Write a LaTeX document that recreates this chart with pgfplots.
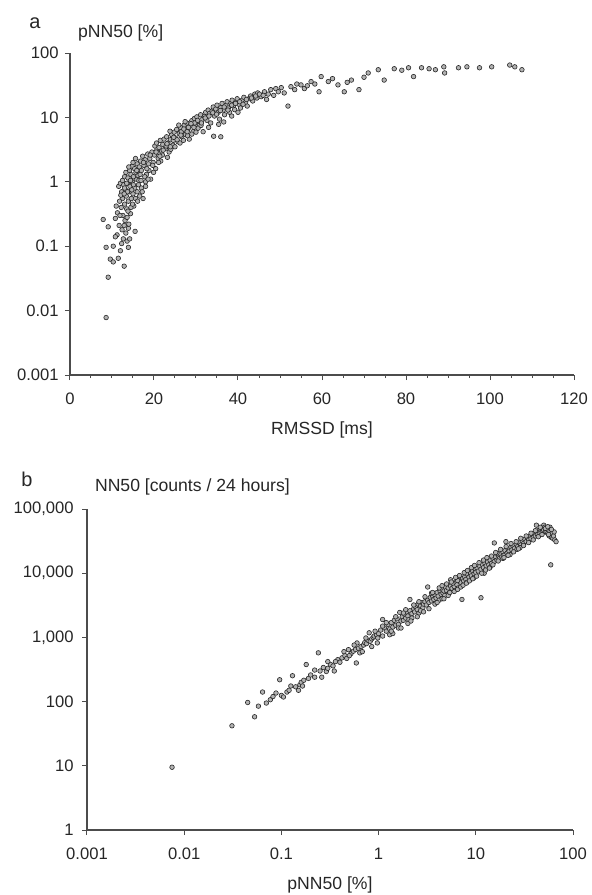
\documentclass[border=0pt]{standalone}
\usepackage{fontspec}
\setmainfont{Liberation Sans}
\usepackage{pgfplots}
\pgfplotsset{compat=1.18}

\pgfplotsset{
  panel/.style={
    scale only axis, anchor=south west,
    axis x line*=bottom, axis y line*=left,
    axis line style={black!70, line width=0.7pt, -},
    tick style={black!70, line width=0.5pt},
    tick align=outside,
    major tick length=2.5pt, minor tick length=1.5pt,
    tick label style={font=\fontsize{8.3}{9}\selectfont, text=black!85},
    xticklabel style={anchor=center, yshift=-9.5pt},
    yticklabel style={anchor=east, inner sep=0pt},
    every axis x label/.style={at={(axis description cs:0.5,0)}, anchor=center, yshift=-27.5pt, font=\fontsize{8.8}{10}\selectfont, text=black!85},
    every axis y label/.style={at={(axis description cs:0,1)}, anchor=west, font=\fontsize{8.8}{10}\selectfont, text=black!85},
    clip=false,
  },
  dots/.style={only marks, mark=*, mark size=1.15pt,
    mark options={fill=gray!60, draw=black!85, line width=0.3pt}},
}

\begin{document}
\begin{tikzpicture}
\path[use as bounding box] (0,0) rectangle (296pt,-447.5pt);

% panel a
\begin{axis}[panel, at={(35pt,-187.5pt)}, width=252pt, height=161pt,
  xmin=0, xmax=120, ymode=log, ymin=0.001, ymax=100,
  xtick={0,20,40,60,80,100,120}, xticklabels={0,20,40,60,80,100,120},
  minor x tick num=3, yminorticks=false,
  ytick={0.001,0.01,0.1,1,10,100}, yticklabels={0.001,0.01,0.1,1,10,100},
  yticklabel style={xshift=-3pt},
  xlabel={RMSSD [ms]},
  ylabel={pNN50 [\%]}, ylabel style={xshift=0.5pt, yshift=10pt},
]
\addplot[dots] coordinates {
 (7.9,0.26) (10.8,0.27) (9.1,0.20) (15.5,0.17) (8.6,0.096) (10.3,0.10) (12.0,0.085)
 (13.9,0.096) (9.6,0.063) (10.3,0.057) (11.5,0.065) (12.9,0.049) (9.1,0.033) (8.6,0.0078)
 (12.7,0.13) (13.6,0.12) (13.9,0.19) (11.2,0.15) (12.3,0.11) (11.7,0.21) (10.8,0.14)
 (11.6,0.85) (12.0,0.95) (12.3,0.7) (12.5,0.55) (12.8,0.9) (13.0,0.45) (13.2,0.75)
 (13.4,0.6) (13.5,0.38) (13.7,0.95) (13.9,0.5) (14.1,0.7) (14.3,0.85) (14.4,0.32)
 (14.6,0.55) (14.8,1.0) (15.0,0.65) (15.2,0.42) (15.4,0.8) (15.6,0.55) (15.8,1.1)
 (16.0,0.7) (16.3,0.9) (16.6,0.6) (17.0,0.8) (17.4,0.55) (12.2,0.4) (12.6,0.3)
 (13.1,0.25) (13.6,0.28) (14.0,0.22) (14.5,0.4) (11.8,0.5) (12.1,0.62) (11.3,0.33)
 (11.0,0.42) (12.4,0.18) (13.3,0.16) (14.2,0.13) (12.9,0.21)
 (12.5,1.05) (13.0,1.2) (13.3,1.4) (13.8,1.15) (14.2,1.5) (14.5,1.3) (14.8,1.75)
 (15.1,1.2) (15.4,1.6) (15.7,1.4) (16.0,1.9) (16.2,1.25) (16.5,1.7) (16.8,2.1)
 (17.0,1.5) (17.3,2.5) (17.6,1.8) (17.9,2.2) (18.2,1.3) (18.5,2.7) (18.7,1.9)
 (19.0,2.3) (19.2,1.1) (19.5,2.9) (19.8,2.0) (20.1,2.6) (20.4,1.6) (20.7,3.2)
 (21.0,2.3) (21.3,2.8) (21.6,2.1) (16.4,1.05) (17.8,1.2) (18.8,1.5) (14.0,1.7)
 (15.0,2.0) (15.6,2.3) (13.5,0.95) (19.9,1.4) (18.0,1.0)
 (20.2,3.6) (20.6,4.0) (21.2,3.4) (21.5,4.4) (21.8,3.0) (22.1,3.8) (22.4,4.6)
 (22.7,3.3) (23.0,5.0) (23.3,4.0) (23.6,2.9) (23.9,4.5) (24.2,5.4) (24.5,3.7)
 (24.8,5.9) (25.1,4.8) (25.4,6.5) (25.7,4.2) (26.0,5.6) (26.3,7.0) (26.6,5.0)
 (26.9,6.2) (27.2,7.6) (27.5,5.4) (27.8,8.2) (28.1,6.6) (28.4,4.6) (28.7,7.4)
 (29.0,8.9) (29.3,6.0) (29.6,9.6) (29.9,7.8) (30.2,10.2) (30.5,6.8) (30.8,8.6)
 (31.1,11.0) (31.4,9.2) (31.7,6.0) (32.0,10.4) (32.3,12.0) (22.0,2.6) (23.2,2.4)
 (24.0,3.2) (25.0,3.5) (26.2,4.0) (27.0,4.4) (28.0,5.2) (29.0,5.5) (30.0,5.9)
 (22.9,3.6) (24.6,4.4) (26.5,6.0) (28.2,7.0) (29.7,8.2) (31.2,7.5) (21.1,2.0)
 (25.9,7.6) (27.4,8.6) (23.8,6.1)
 (32.6,9.0) (32.9,13.0) (33.2,11.5) (33.5,8.2) (33.8,12.5) (34.1,14.5) (34.4,10.5)
 (34.7,13.5) (35.0,15.5) (35.3,12.0) (35.6,9.4) (35.9,14.2) (36.2,16.5) (36.5,13.0)
 (36.8,11.0) (37.1,15.5) (37.4,17.5) (37.7,14.0) (38.0,12.0) (38.3,16.5) (38.6,18.5)
 (38.9,15.0) (39.2,13.2) (39.5,17.5) (39.8,19.5) (40.2,16.0) (40.6,14.0) (41.0,18.5)
 (41.4,20.5) (41.8,17.0) (42.2,15.0) (42.6,19.5) (43.0,21.5) (43.5,18.0) (44.0,23.0)
 (44.5,20.0) (34.2,5.1) (35.9,5.0) (35.4,7.8) (36.6,8.5) (33.0,7.0) (38.5,10.5) (40.0,12.0)
 (44.7,24) (47.8,27) (51.9,15) (52.6,30) (55.0,32) (57.4,36) (59.8,43) (59.3,25)
 (45.5,21) (46.3,25) (46.8,19) (47.2,23) (48.5,22) (49.0,28) (49.6,25) (50.3,29)
 (51.0,24) (53.5,27) (54.0,33) (55.8,28) (56.5,31) (58.3,33)
 (63.8,32) (65.3,25) (67.0,38) (68.8,27) (71.0,49) (73.4,55) (74.8,38) (77.2,57)
 (80.6,59) (81.8,43) (83.7,59) (89.0,61) (89.2,49) (92.5,59) (94.5,61) (97.5,59)
 (100.4,61) (104.7,65) (105.9,61) (107.6,55) (61.5,36) (62.5,40) (66.0,35) (70.0,42)
 (79.0,54) (85.5,57) (87.0,55)
 (13.0,0.8) (13.7,0.7) (14.4,1.05) (15.1,0.9) (15.9,1.5) (16.7,1.3) (17.5,2.0)
 (18.3,1.6) (19.1,2.6) (19.7,1.8) (20.5,2.9) (21.4,2.5) (22.2,3.1) (23.1,3.9)
 (23.9,3.5) (24.7,4.9) (25.5,4.5) (26.4,5.3) (27.1,6.6) (27.9,6.0) (28.8,8.0)
 (29.5,7.0) (30.4,9.0) (31.3,8.2) (32.2,9.8) (33.1,10.5) (34.0,11.8) (34.9,11.2)
 (35.8,12.8) (36.7,14.5) (37.6,13.0) (38.5,15.5) (39.4,16.5) (40.4,17.5) (41.2,16.0)
 (42.0,19.0) (43.2,20.0) (44.2,21.5) (45.1,23.0) (46.0,22.0) (14.9,0.45) (16.1,0.5)
 (17.2,0.7) (18.0,0.85) (18.6,1.1) (12.9,0.65) (14.7,0.75) (16.9,1.05) (11.9,0.3)
 (13.8,0.35)
};
\node[font=\fontsize{10}{11}\selectfont, text=black!85] at (rel axis cs:0,1) [xshift=-17.5pt, yshift=15pt] {a};
\end{axis}

% panel b
\begin{axis}[panel, at={(43.5pt,-415pt)}, width=243pt, height=160.5pt,
  xmode=log, ymode=log, xmin=0.001, xmax=100, ymin=1, ymax=100000,
  xminorticks=false, yminorticks=false,
  xtick={0.001,0.01,0.1,1,10,100}, xticklabels={0.001,0.01,0.1,1,10,100},
  ytick={1,10,100,1000,10000,100000}, yticklabels={1,10,100,{1,000},{10,000},{100,000}},
  yticklabel style={xshift=-4pt},
  xlabel={pNN50 [\%]},
  ylabel={NN50 [counts / 24 hours]}, ylabel style={xshift=0.5pt, yshift=11pt},
]
\addplot[dots] coordinates {
 (0.0075,9.5) (0.031,42) (0.045,97) (0.053,58) (0.058,85) (0.064,141) (0.077,107)
 (0.088,136) (0.096,219) (0.114,141) (0.13,253) (0.155,183) (0.18,378) (0.24,575)
 (0.29,295) (0.38,450) (0.49,645) (0.59,400) (0.64,575)
 (0.07,95) (0.082,120) (0.1,125) (0.105,118) (0.12,150) (0.14,170) (0.16,200)
 (0.165,175) (0.19,230) (0.2,260) (0.22,240) (0.25,300) (0.27,340) (0.3,330)
 (0.32,380) (0.34,360) (0.36,420) (0.4,410) (0.42,480) (0.45,520) (0.47,470)
 (0.52,560) (0.55,610) (0.58,650) (0.62,680) (0.66,720) (0.7,760) (0.72,830)
 (0.75,800) (0.78,900) (0.8,1180) (0.82,870) (0.85,950) (0.88,1000) (0.9,1050)
 (0.95,1100) (0.98,980) (1.0,1150)
 (1.05,1300) (1.1,1900) (1.1,1050) (1.15,1400) (1.2,1250) (1.25,1600) (1.3,1350)
 (1.35,1700) (1.4,1450) (1.45,1850) (1.5,1550) (1.55,1950) (1.6,1600) (1.65,2450)
 (1.7,1800) (1.75,2100) (1.8,1850) (1.85,2300) (1.9,2000) (1.95,2500) (2.0,2150)
 (2.05,1900) (2.1,2600) (2.1,3900) (2.2,2350) (2.3,2800) (2.35,2500) (2.4,3000)
 (2.5,2700) (2.55,3300) (2.6,2400) (2.7,3100) (2.8,3500) (2.85,2900) (2.9,3300)
 (3.0,3600) (1.3,1100) (1.6,1400) (2.2,2000) (2.7,2600)
 (3.1,3200) (3.2,6100) (3.2,3800) (3.3,3500) (3.4,4200) (3.5,3700) (3.6,4400)
 (3.7,3900) (3.8,4600) (3.9,4100) (4.0,5000) (4.1,4400) (4.2,3800) (4.3,5200)
 (4.4,4700) (4.5,5600) (4.6,4900) (4.7,5300) (4.8,4500) (4.9,6000) (5.0,5400)
 (5.2,5900) (5.3,4900) (5.5,7900) (5.5,6300) (5.7,5800) (5.9,6800) (6.0,6200)
 (6.2,7300) (6.4,6600) (6.6,5900) (6.8,7800) (7.0,7200) (7.2,3900) (7.3,8300)
 (7.5,7600) (7.7,8800) (7.9,8000) (8.1,7200) (8.3,9400) (8.5,8700) (8.8,10000)
 (9.0,9100) (9.3,10800) (9.6,9800) (9.9,11500) (10.0,10300) (3.5,4900) (4.5,4000)
 (5.8,7000) (6.5,7700) (8.0,9800) (9.5,8400)
 (10.3,12000) (10.6,10800) (11.0,12800) (11.3,4150) (11.3,11500) (11.7,13600)
 (12.0,12200) (12.4,14400) (12.8,13000) (13.2,15000) (13.6,13500) (14.0,16000)
 (14.5,14200) (15.0,17000) (15.5,29600) (15.5,15200) (16.0,18000) (16.5,16000)
 (17.0,19000) (17.5,17000) (18.0,20000) (18.5,18000) (19.0,21500) (19.5,19000)
 (20.0,22500) (20.4,31000) (21.0,20500) (21.5,24000) (22.0,22000) (23.0,25500)
 (23.5,23000) (24.0,27000) (25.0,24500) (26.0,28500) (27.0,26000) (28.0,30500)
 (29.0,27500) (30.0,32000) (12.2,10000) (14.0,12300) (16.5,20500) (19.0,17000)
 (22.5,19500) (26.5,23500) (28.5,25000)
 (31,29000) (32,34000) (33,31000) (34,36000) (35,33000) (36,38000) (37,34500)
 (38,40000) (39,36000) (40,42000) (41,38000) (42,56000) (42,44000) (43,40000)
 (44,46000) (45,41000) (46,48000) (47,43000) (48,50000) (49,45000) (50,56000)
 (50,47000) (51,52000) (52,44000) (53,44000) (54,50000) (55,42000) (56,47000)
 (57,38000) (58,45000) (59,40000) (59,13500) (60,36000) (61,42000) (62,35000)
 (63,38000) (65,33000) (67,31000) (64,44000) (58,52000)
 (1.2,1700) (1.4,1150) (1.5,2100) (1.7,1400) (1.9,2700) (2.0,1650) (2.3,3200)
 (2.5,2100) (2.6,3600) (2.9,2500) (3.0,4300) (3.3,2800) (3.6,5000) (3.8,3300)
 (4.0,3500) (4.2,5900) (4.5,6400) (4.7,4000) (5.0,6800) (5.2,4500) (5.4,5000)
 (5.6,7300) (6.0,5200) (6.2,8600) (6.5,5600) (6.8,9200) (7.0,6100) (7.4,6500)
 (7.6,10200) (8.0,7000) (8.2,11000) (8.6,7600) (9.0,12200) (9.3,8200) (9.7,13200)
 (10.2,9000) (10.8,14600) (11.5,10000) (12.0,16000) (12.6,11200) (13.0,17500)
 (13.8,12000) (14.5,18500) (15.0,13500) (16.0,21000) (17.0,15500) (18.0,23500)
 (19.5,17500) (20.5,26000) (21.5,19000) (23.0,29000) (24.5,21500) (26.0,31000)
 (27.5,24000) (29.0,35000) (31.0,27000) (33.0,38000) (35.0,30000) (37.0,42000)
 (39.0,33000) (41.0,46000) (44.0,37000) (46.0,52000) (48.0,40000) (52.0,50000)
 (55.0,53000) (56.0,40000) (60.0,48000) (0.6,820) (0.68,600) (0.74,980) (0.85,720)
 (0.92,1250) (0.97,820) (0.5,520) (0.56,760) (0.44,600) (0.35,300) (0.3,420)
 (0.26,240) (0.22,310) (0.17,215) (0.15,150) (0.125,175) (1.1,1500) (1.35,1250)
 (1.8,2400) (2.15,1800)
};
\node[font=\fontsize{10}{11}\selectfont, text=black!85] at (rel axis cs:0,1) [xshift=-30pt, yshift=15pt] {b};
\end{axis}
\end{tikzpicture}
\end{document}
